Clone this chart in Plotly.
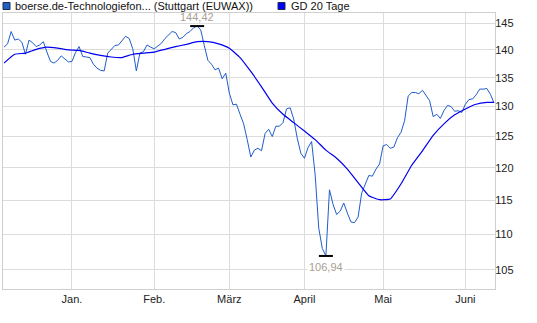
import numpy as np
import pandas as pd
import plotly.graph_objects as go

# ---- data -------------------------------------------------------------
dates = [d.strftime("%Y-%m-%d") for d in pd.bdate_range("2023-12-05", "2024-06-13")]

price = [140.5, 141.1, 143.4, 141.8, 142.0, 141.4, 139.2, 141.8, 141.3, 140.6,
         140.9, 141.5, 139.6, 137.9, 137.6, 138.1, 138.9, 138.4, 137.8, 137.9,
         139.5, 140.6, 138.8, 138.7, 138.6, 137.4, 136.7, 136.3, 136.2, 139.4,
         140.2, 140.8, 140.9, 141.6, 142.5, 142.1, 140.2, 136.2, 139.4, 139.7,
         140.9, 140.5, 140.2, 140.7, 141.2, 142.1, 142.7, 143.4, 143.2, 142.0,
         142.3, 143.0, 143.4, 144.1, 144.42, 143.7, 140.8, 138.1, 137.4, 136.4,
         136.7, 134.8, 135.8, 132.3, 130.3, 130.4, 128.7, 127.1, 124.5, 121.7,
         122.8, 123.1, 122.7, 125.5, 126.2, 125.0, 126.7, 126.7, 127.3, 129.6,
         129.8, 127.9, 124.7, 122.3, 121.5, 123.2, 124.2, 118.9, 110.9, 108.0,
         106.94, 116.6, 114.4, 112.9, 113.4, 114.6, 113.1, 111.8, 111.7, 112.5,
         116.1, 117.6, 118.8, 118.7, 119.8, 120.6, 123.5, 123.7, 123.1, 123.3,
         124.8, 125.7, 127.6, 131.8, 132.4, 132.4, 132.2, 132.8, 131.8, 131.0,
         128.3, 128.7, 128.0, 129.3, 130.2, 130.0, 129.2, 129.3, 129.0, 130.4,
         131.2, 131.3, 132.0, 133.0, 133.0, 133.1, 132.1, 130.6]

ma_dates = dates[::3] + [dates[-1]]
ma_values = [137.6, 139.2, 139.4, 140.1, 140.5, 140.3, 140.0, 139.9, 139.4, 139.0,
             138.7, 138.6, 139.2, 139.4, 139.6, 140.1, 140.6, 141.0, 141.5, 141.5,
             141.1, 140.3, 138.6, 136.1, 133.4, 130.6, 128.7, 127.3, 125.9, 124.5,
             122.8, 121.5, 119.8, 117.7, 115.7, 115.1, 115.2, 117.5, 120.4, 122.7,
             125.2, 127.1, 128.6, 129.6, 130.4, 130.7, 130.7]

month_labels = ["Jan.", "Feb.", "März", "April", "Mai", "Juni"]
y_ticks = [105, 110, 115, 120, 125, 130, 135, 140, 145]

series_name = "boerse.de-Technologiefon... (Stuttgart (EUWAX))"
ma_name = "GD 20 Tage"

# ---- styling ----------------------------------------------------------
PRICE_COLOR = "#1f5ccc"
MA_COLOR = "#0000f0"
GRID = "#dcdcdc"
FONT = "Arial, Liberation Sans, sans-serif"

# first trading day of each month from January on
month_first = []
seen = set()
for d in dates:
    ym = d[:7]
    if ym >= "2024-01" and ym not in seen:
        seen.add(ym)
        month_first.append(d)

fig = go.Figure()
fig.add_trace(go.Scatter(x=dates, y=price, mode="lines",
                         line=dict(color=PRICE_COLOR, width=1),
                         showlegend=False, hoverinfo="skip"))
fig.add_trace(go.Scatter(x=ma_dates, y=ma_values, mode="lines",
                         line=dict(color=MA_COLOR, width=1.2, shape="spline", smoothing=0.4),
                         showlegend=False, hoverinfo="skip"))

imax = int(np.argmax(price))
imin = int(np.argmin(price))
fig.add_trace(go.Scatter(x=[dates[imax], dates[imin]], y=[price[imax], price[imin]],
                         mode="markers",
                         marker=dict(symbol="line-ew-open", size=10, color="black",
                                     line=dict(color="black", width=2)),
                         showlegend=False, hoverinfo="skip"))

def fmt(v):
    return f"{v:.2f}".replace(".", ",")

ann_color = "#a99e92"
annotations = [
    dict(x=imax, y=np.log10(price[imax]), xref="x", yref="y", text=fmt(price[imax]),
         showarrow=False, yshift=9, font=dict(family=FONT, size=11, color=ann_color)),
    dict(x=imin, y=np.log10(price[imin]), xref="x", yref="y", text=fmt(price[imin]),
         showarrow=False, yshift=-11, bgcolor="white",
         font=dict(family=FONT, size=11, color=ann_color)),
]

# legend drawn as squares + text (paper coords)
W, H = 537, 323
L, R, T, B = 3, 42, 13, 34
pw, ph = W - L - R, H - T - B

def px(x):
    return (x - L) / pw

def py(y):
    return (H - B - y) / ph

shapes = [
    dict(type="rect", xref="paper", yref="paper", x0=px(3), x1=px(10), y0=py(9.5), y1=py(2.5),
         fillcolor="#2060c0", line=dict(color="#1a2a50", width=1)),
    dict(type="rect", xref="paper", yref="paper", x0=px(278), x1=px(285), y0=py(9.5), y1=py(2.5),
         fillcolor="#0000ff", line=dict(color="#1a2a50", width=1)),
]
annotations += [
    dict(x=px(13), y=py(6), xref="paper", yref="paper", xanchor="left", yanchor="middle",
         text=series_name, showarrow=False, font=dict(family=FONT, size=11, color="#111")),
    dict(x=px(289), y=py(6), xref="paper", yref="paper", xanchor="left", yanchor="middle",
         text=ma_name, showarrow=False, font=dict(family=FONT, size=11, color="#111")),
]

fig.update_layout(
    width=W, height=H,
    margin=dict(l=L, r=R, t=T, b=B, pad=0),
    paper_bgcolor="white", plot_bgcolor="white",
    showlegend=False,
    font=dict(family=FONT, size=11, color="#222"),
    annotations=annotations,
    shapes=shapes,
)
fig.update_xaxes(
    type="category", categoryorder="array", categoryarray=dates,
    range=[-0.28, len(dates) - 1 + 0.28],
    tickmode="array", tickvals=month_first, ticktext=month_labels,
    showgrid=True, gridcolor=GRID, gridwidth=1,
    showline=True, linecolor="#cfcfcf", mirror=True,
    ticks="", zeroline=False,
    tickfont=dict(family=FONT, size=11, color="#222"),
)
fig.update_yaxes(
    type="log", side="right",
    range=[np.log10(102.42), np.log10(146.91)],
    tickmode="array", tickvals=y_ticks, ticktext=[str(v) for v in y_ticks],
    showgrid=True, gridcolor=GRID, gridwidth=1,
    showline=True, linecolor="#cfcfcf", mirror=True,
    ticks="", zeroline=False, ticklabelstandoff=-3,
    tickfont=dict(family=FONT, size=11, color="#222"),
)

fig.write_html("out.html")
